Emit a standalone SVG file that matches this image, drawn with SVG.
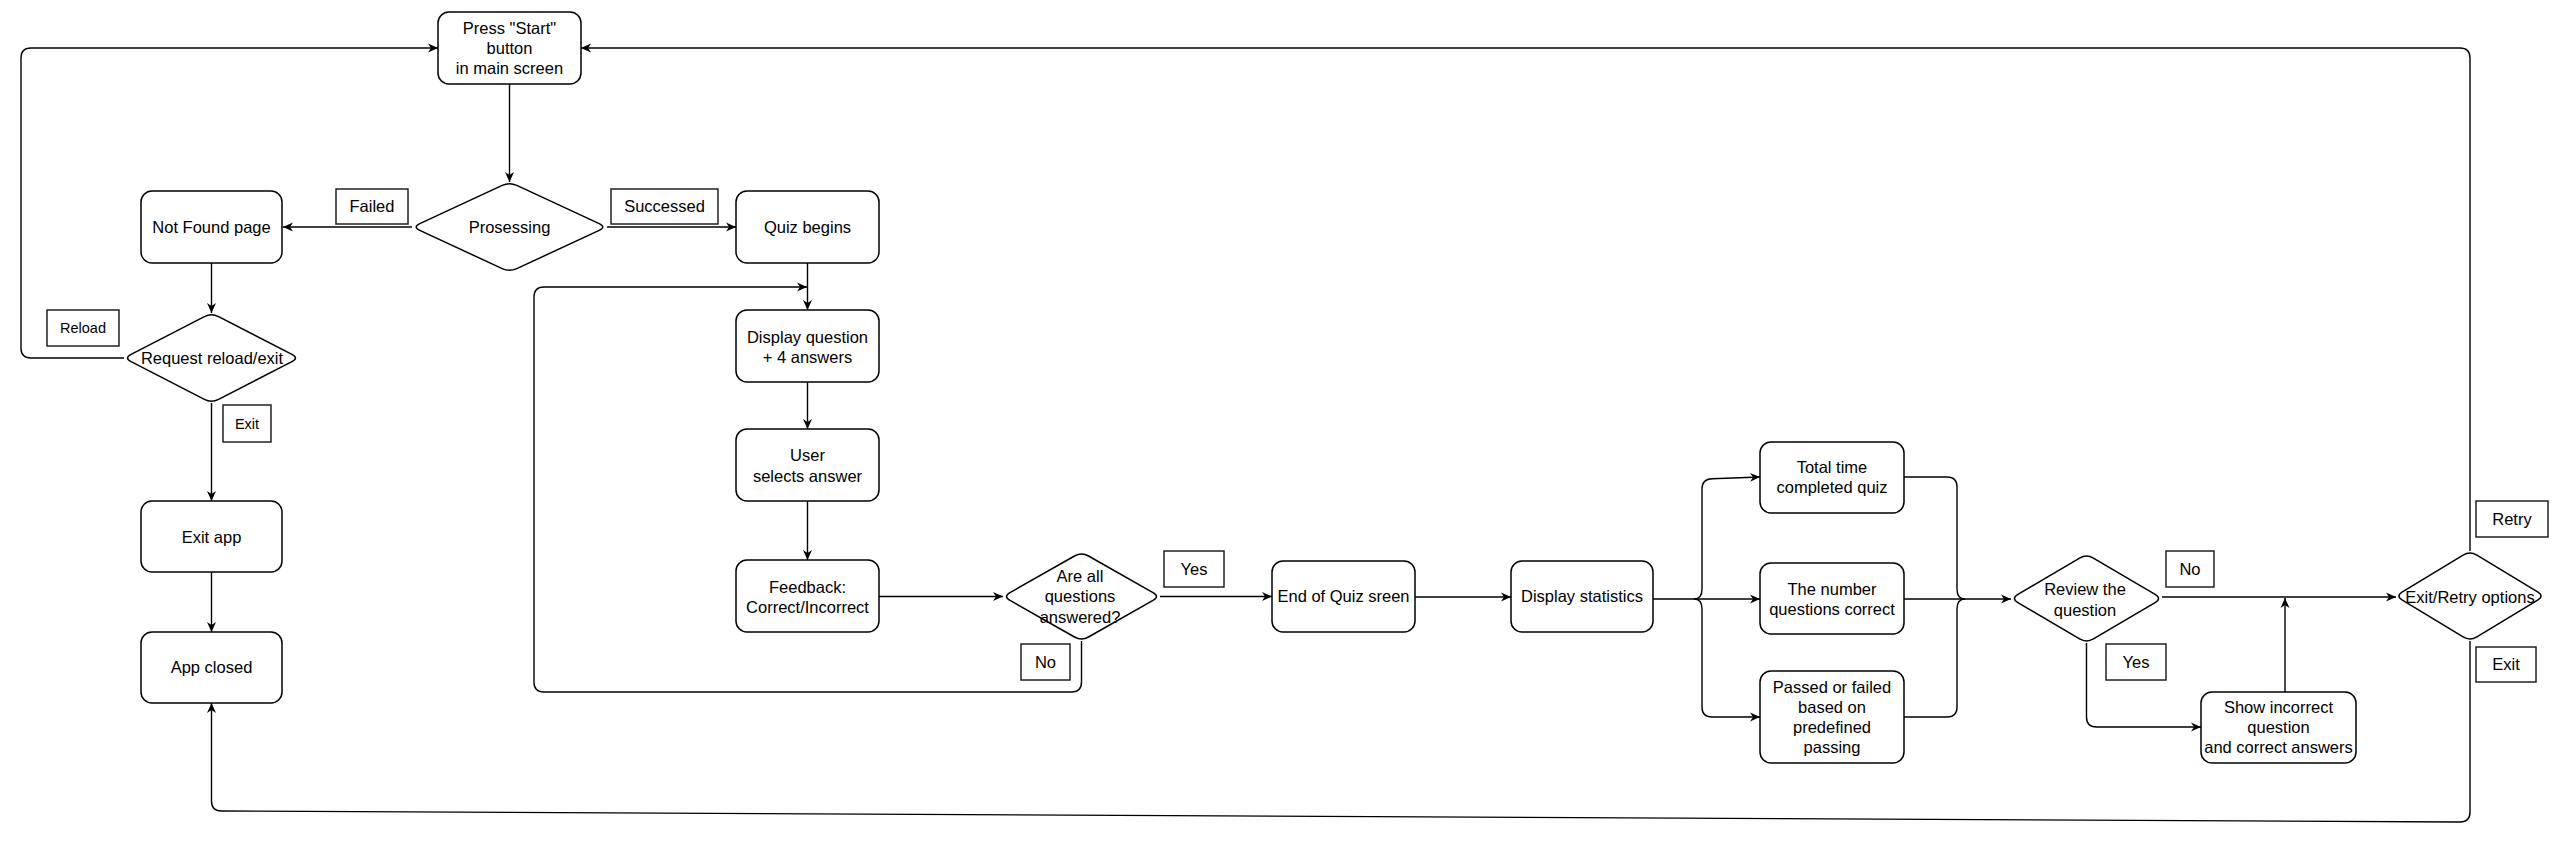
<svg xmlns="http://www.w3.org/2000/svg" width="2560" height="845" viewBox="0 0 2560 845">
<defs>
<marker id="arr" markerUnits="userSpaceOnUse" markerWidth="11" markerHeight="10" refX="10" refY="5" orient="auto">
<path d="M0,0.5 L10,5 L0,9.5 L3,5 Z" fill="#000"/>
</marker>
<style>
.n{fill:#fff;stroke:#000;stroke-width:1.5}
.l{fill:#fff;stroke:#222;stroke-width:1.5}
.c{fill:none;stroke:#000;stroke-width:1.4}
.a{marker-end:url(#arr)}
text{font-family:"Liberation Sans",Arial,sans-serif;font-size:16.5px;fill:#000;text-anchor:middle}
.s{font-size:14.5px}
</style>
</defs>
<rect width="2560" height="845" fill="#fff"/>
<g id="connectors">
<path class="c a" d="M509.5,84 L509.5,182"/>
<path class="c a" d="M412,227 L283,227"/>
<path class="c a" d="M607,227 L736,227"/>
<path class="c a" d="M211.5,263 L211.5,313"/>
<path class="c a" d="M124,358 L31,358 Q21,358 21,348 L21,58 Q21,48 31,48 L438,48"/>
<path class="c a" d="M211.5,403 L211.5,501"/>
<path class="c a" d="M211.5,572 L211.5,632"/>
<path class="c a" d="M807.5,263 L807.5,310"/>
<path class="c a" d="M1081.5,641 L1081.5,682 Q1081.5,692 1071.5,692 L544,692 Q534,692 534,682 L534,297 Q534,287 544,287 L807,287"/>
<path class="c a" d="M807.5,382 L807.5,429"/>
<path class="c a" d="M807.5,501 L807.5,560"/>
<path class="c a" d="M879,596.5 L1003,596.5"/>
<path class="c a" d="M1160,596.5 L1272,596.5"/>
<path class="c a" d="M1415,597 L1511,597"/>
<path class="c a" d="M1653,599 L1694,599 Q1702,599 1702,589 L1702,489 Q1702,479 1712,478.7 L1760,477"/>
<path class="c a" d="M1694,599 L1760,599"/>
<path class="c a" d="M1694,599 Q1702,599 1702,609 L1702,707 Q1702,717 1712,717 L1760,717"/>
<path class="c" d="M1904,477 L1947,477 Q1957,477 1957,487 L1957,589 Q1957,599 1965,599"/>
<path class="c" d="M1904,717 L1947,717 Q1957,717 1957,707 L1957,609 Q1957,599 1965,599"/>
<path class="c a" d="M1904,599 L2011,599"/>
<path class="c a" d="M2162,597 L2396,597"/>
<path class="c a" d="M2086.5,643 L2086.5,717 Q2086.5,727 2096.5,727 L2201,727"/>
<path class="c a" d="M2285,692 L2285,598"/>
<path class="c a" d="M2470,551 L2470,58 Q2470,48 2460,48 L581,48"/>
<path class="c a" d="M2470,641 L2470,812 Q2470,822 2460,822 L221.5,811 Q211.5,811 211.5,801 L211.5,703"/>
</g>
<g id="press-start">
<rect class="n" x="438" y="12" width="143" height="72" rx="11"/>
<text x="509.5" y="33.5">Press "Start"</text>
<text x="509.5" y="53.5">button</text>
<text x="509.5" y="74">in main screen</text>
</g>
<g id="processing">
<path class="n" d="M502.2,185.4 Q509.5,182 516.8,185.4 L599.2,223.6 Q606.5,227 599.2,230.4 L516.8,268.6 Q509.5,272 502.2,268.6 L419.8,230.4 Q412.5,227 419.8,223.6 Z"/>
<text x="509.5" y="232.5">Prosessing</text>
</g>
<g id="not-found">
<rect class="n" x="141" y="191" width="141" height="72" rx="11"/>
<text x="211.5" y="232.5">Not Found page</text>
</g>
<g id="quiz-begins">
<rect class="n" x="736" y="191" width="143" height="72" rx="11"/>
<text x="807.5" y="232.5">Quiz begins</text>
</g>
<g id="request">
<path class="n" d="M204.4,316.7 Q211.5,313 218.6,316.7 L291.9,354.3 Q299,358 291.9,361.7 L218.6,399.3 Q211.5,403 204.4,399.3 L131.1,361.7 Q124,358 131.1,354.3 Z"/>
<text x="212" y="363.5">Request reload/exit</text>
</g>
<g id="exit-app">
<rect class="n" x="141" y="501" width="141" height="71" rx="11"/>
<text x="211.5" y="542.5">Exit app</text>
</g>
<g id="app-closed">
<rect class="n" x="141" y="632" width="141" height="71" rx="11"/>
<text x="211.5" y="673">App closed</text>
</g>
<g id="display-question">
<rect class="n" x="736" y="310" width="143" height="72" rx="11"/>
<text x="807.5" y="342.5">Display question</text>
<text x="807.5" y="362.5">+ 4 answers</text>
</g>
<g id="user-selects">
<rect class="n" x="736" y="429" width="143" height="72" rx="11"/>
<text x="807.5" y="461">User</text>
<text x="807.5" y="481.5">selects answer</text>
</g>
<g id="feedback">
<rect class="n" x="736" y="560" width="143" height="72" rx="11"/>
<text x="807.5" y="592.5">Feedback:</text>
<text x="807.5" y="612.5">Correct/Incorrect</text>
</g>
<g id="all-answered">
<path class="n" d="M1074.5,556 Q1081.5,552 1088.5,556 L1153,592.6 Q1160,596.5 1153,600.4 L1088.5,637 Q1081.5,641 1074.5,637 L1010,600.4 Q1003,596.5 1010,592.6 Z"/>
<text x="1080" y="581.5">Are all</text>
<text x="1080" y="602">questions</text>
<text x="1080" y="622.5">answered?</text>
</g>
<g id="end-of-quiz">
<rect class="n" x="1272" y="561" width="143" height="71" rx="11"/>
<text x="1343.5" y="602">End of Quiz sreen</text>
</g>
<g id="display-statistics">
<rect class="n" x="1511" y="561" width="142" height="71" rx="11"/>
<text x="1582" y="602">Display statistics</text>
</g>
<g id="total-time">
<rect class="n" x="1760" y="442" width="144" height="71" rx="11"/>
<text x="1832" y="473">Total time</text>
<text x="1832" y="493">completed quiz</text>
</g>
<g id="number-correct">
<rect class="n" x="1760" y="563" width="144" height="71" rx="11"/>
<text x="1832" y="594.5">The number</text>
<text x="1832" y="614.5">questions correct</text>
</g>
<g id="passed-failed">
<rect class="n" x="1760" y="671" width="144" height="92" rx="11"/>
<text x="1832" y="692.5">Passed or failed</text>
<text x="1832" y="712.5">based on</text>
<text x="1832" y="732.5">predefined</text>
<text x="1832" y="752.5">passing</text>
</g>
<g id="review">
<path class="n" d="M2079.6,558.1 Q2086.5,554 2093.4,558.1 L2155.1,594.4 Q2162,598.5 2155.1,602.6 L2093.4,638.9 Q2086.5,643 2079.6,638.9 L2017.9,602.6 Q2011,598.5 2017.9,594.4 Z"/>
<text x="2085" y="594.5">Review the</text>
<text x="2085" y="615.5">question</text>
</g>
<g id="show-incorrect">
<rect class="n" x="2201" y="692" width="155" height="71" rx="11"/>
<text x="2278.5" y="712.5">Show incorrect</text>
<text x="2278.5" y="733">question</text>
<text x="2278.5" y="753">and correct answers</text>
</g>
<g id="exit-retry">
<path class="n" d="M2463.1,555.1 Q2470,551 2476.9,555.1 L2537.6,591.9 Q2544.5,596 2537.6,600.1 L2476.9,636.9 Q2470,641 2463.1,636.9 L2402.4,600.1 Q2395.5,596 2402.4,591.9 Z"/>
<text x="2470" y="602.5">Exit/Retry options</text>
</g>
<g id="label-failed">
<rect class="l" x="336" y="189" width="72" height="35"/>
<text x="372" y="212">Failed</text>
</g>
<g id="label-successed">
<rect class="l" x="611" y="189" width="107" height="35"/>
<text x="664.5" y="212">Successed</text>
</g>
<g id="label-reload">
<rect class="l" x="47" y="310" width="72" height="36"/>
<text class="s" x="83" y="333">Reload</text>
</g>
<g id="label-exit-left">
<rect class="l" x="223" y="405" width="48" height="37"/>
<text class="s" x="247" y="428.5">Exit</text>
</g>
<g id="label-no-1">
<rect class="l" x="1021" y="644" width="49" height="36"/>
<text x="1045.5" y="667.5">No</text>
</g>
<g id="label-yes-1">
<rect class="l" x="1164" y="551" width="60" height="36"/>
<text x="1194" y="574.5">Yes</text>
</g>
<g id="label-no-2">
<rect class="l" x="2166" y="551" width="48" height="36"/>
<text x="2190" y="574.5">No</text>
</g>
<g id="label-yes-2">
<rect class="l" x="2106" y="644" width="60" height="36"/>
<text x="2136" y="667.5">Yes</text>
</g>
<g id="label-retry">
<rect class="l" x="2476" y="501" width="72" height="36"/>
<text x="2512" y="524.5">Retry</text>
</g>
<g id="label-exit-right">
<rect class="l" x="2476" y="647" width="60" height="35"/>
<text x="2506" y="670">Exit</text>
</g>
</svg>
